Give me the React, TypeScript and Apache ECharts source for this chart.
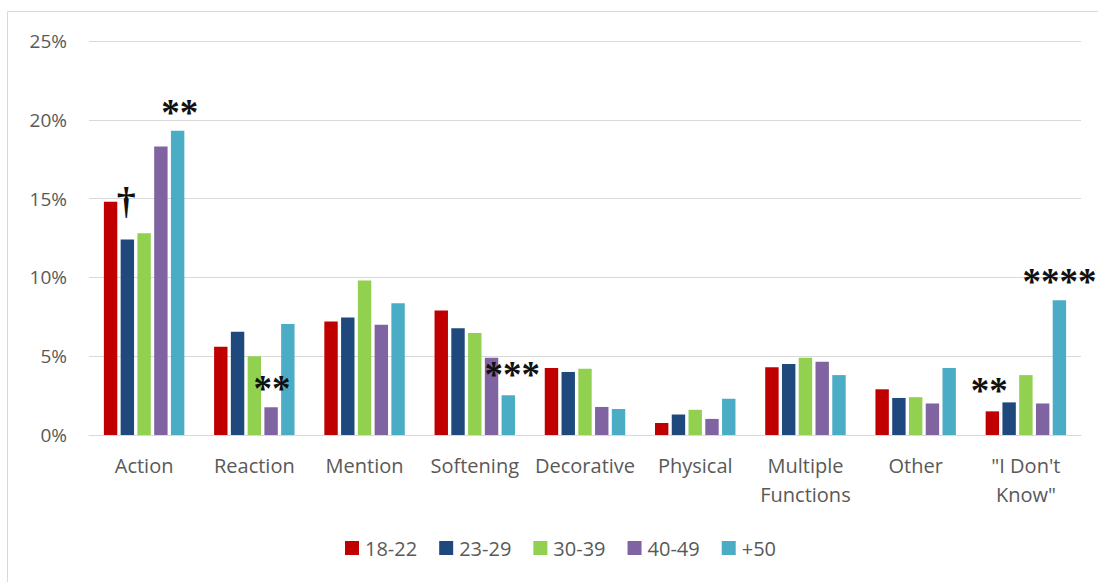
import React, { useEffect, useRef } from "react";
import * as echarts from "echarts";

const categories = ["Action", "Reaction", "Mention", "Softening", "Decorative", "Physical", "Multiple\nFunctions", "Other", "\"I Don't\nKnow\""];
const seriesNames = ["18-22", "23-29", "30-39", "40-49", "+50"];
const colors = ["#C00000", "#1F497D", "#92D050", "#8064A2", "#4BACC6"];
const v18_22 = [14.8, 5.6, 7.2, 7.9, 4.25, 0.76, 4.3, 2.9, 1.5];
const v23_29 = [12.4, 6.55, 7.45, 6.77, 4.0, 1.3, 4.5, 2.35, 2.07];
const v30_39 = [12.8, 5.0, 9.8, 6.47, 4.2, 1.6, 4.9, 2.4, 3.8];
const v40_49 = [18.3, 1.76, 7.0, 4.9, 1.78, 1.02, 4.65, 2.0, 2.0];
const v50 = [19.3, 7.04, 8.36, 2.52, 1.65, 2.3, 3.8, 4.25, 8.55];
const allValues = [v18_22, v23_29, v30_39, v40_49, v50];
const yTicks = [0, 5, 10, 15, 20, 25];

// significance markers: [seriesIndex, categoryIndex, text, offsetX, offsetY]
const markers: [number, number, string, number, number][] = [
  [1, 0, "†", -1, -20],
  [4, 0, "**", 2, 0],
  [3, 1, "**", 1, 0],
  [4, 3, "***", 4, -2],
  [0, 8, "**", -3, -2],
  [4, 8, "****", 0, 0],
];

export default function App() {
  const ref = useRef<HTMLDivElement>(null);
  useEffect(() => {
    if (!ref.current) return;
    const chart = echarts.init(ref.current, null, { renderer: "svg" });
    const series = allValues.map((vals, si) => ({
      name: seriesNames[si],
      type: "bar",
      barGap: "25%",
      barCategoryGap: "27%",
      itemStyle: { color: colors[si] },
      data: vals.map((v, ci) => {
        const m = markers.find((mk) => mk[0] === si && mk[1] === ci);
        if (!m) return v;
        return {
          value: v,
          label: {
            show: true,
            position: "top",
            distance: 0,
            formatter: m[2],
            offset: [m[3], m[4]],
            color: "#111",
            fontFamily: "Liberation Serif",
            fontWeight: "bold",
            fontSize: m[2] === "†" ? 38 : 37,
          },
        };
      }),
    }));
    chart.setOption({
      animation: false,
      backgroundColor: "#fff",
      textStyle: { fontFamily: "Open Sans" },
      graphic: [
        {
          type: "rect",
          shape: { x: 7.5, y: 11.5, width: 1200, height: 700 },
          style: { fill: "none", stroke: "#D9D9D9", lineWidth: 1 },
          silent: true,
        },
      ],
      grid: { left: 89, right: 17, top: 41, bottom: 147, containLabel: false },
      legend: {
        left: 345,
        top: 538,
        padding: 0,
        itemWidth: 14,
        itemHeight: 14,
        itemGap: 22,
        icon: "rect",
        textStyle: { color: "#595959", fontSize: 20, fontFamily: "Open Sans", padding: [0, 0, 0, 1] },
        data: seriesNames,
      },
      xAxis: {
        type: "category",
        data: categories,
        axisLine: { lineStyle: { color: "#D9D9D9", width: 1 } },
        axisTick: { show: false },
        axisLabel: { color: "#595959", fontSize: 20, fontFamily: "Open Sans", margin: 16, lineHeight: 29, interval: 0 },
      },
      yAxis: {
        type: "value",
        min: yTicks[0],
        max: yTicks[yTicks.length - 1],
        interval: 5,
        axisLine: { show: false },
        axisTick: { show: false },
        splitLine: { lineStyle: { color: "#D9D9D9", width: 1 } },
        axisLabel: { color: "#595959", fontSize: 19, fontFamily: "Open Sans", margin: 22, formatter: "{value}%" },
      },
      series,
    });
    return () => chart.dispose();
  }, []);
  return <div ref={ref} style={{ position: "absolute", left: 0, top: 0, width: 1098, height: 582 }} />;
}
